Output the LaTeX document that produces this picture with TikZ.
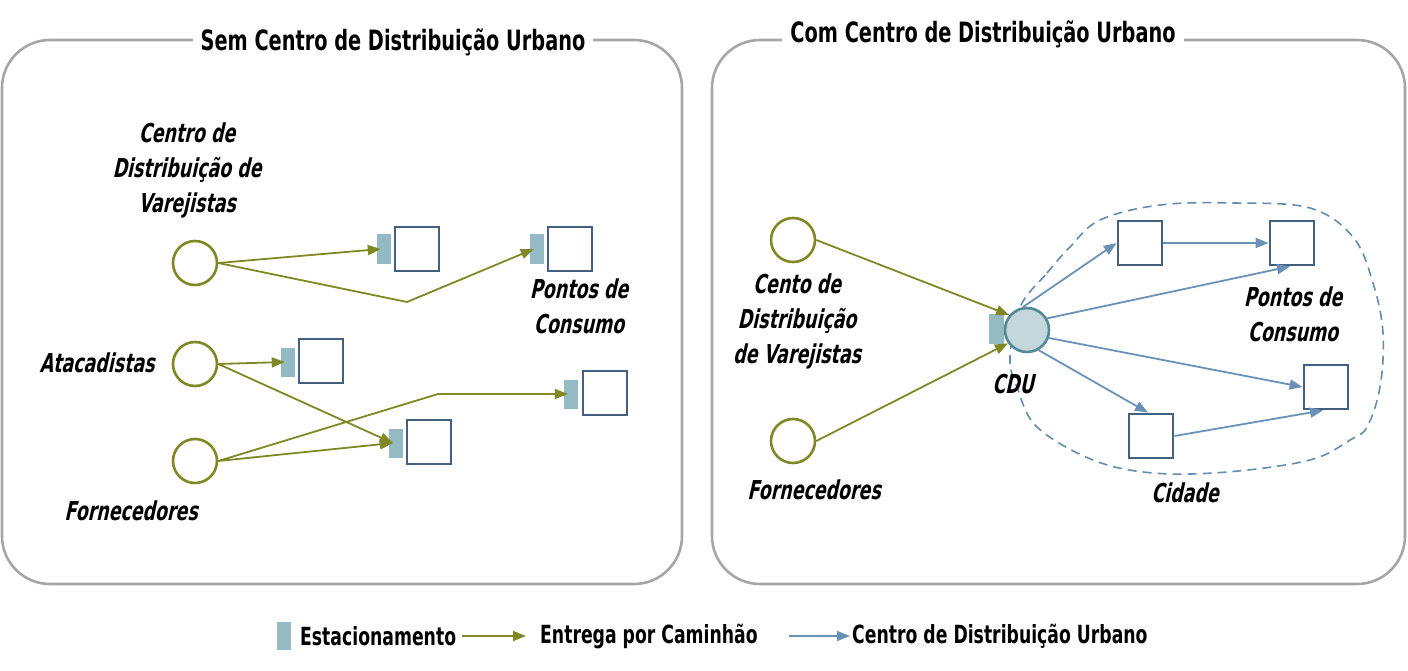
\documentclass[tikz,border=0pt]{standalone}
\usepackage{fontspec}
\usetikzlibrary{arrows.meta}
\newfontfamily\agency{DejaVu Sans}[FakeStretch=0.69]
\newfontfamily\agencyit{DejaVu Sans}[FakeStretch=0.67,FakeSlant=0.22]
\definecolor{panelgray}{RGB}{166,166,166}
\definecolor{olivec}{RGB}{128,136,38}
\definecolor{sqblue}{RGB}{68,96,128}
\definecolor{parkc}{RGB}{148,186,196}
\definecolor{bluearr}{RGB}{106,146,184}
\definecolor{cdufill}{RGB}{198,214,221}
\definecolor{cdudraw}{RGB}{80,138,150}
\definecolor{dashc}{RGB}{100,140,176}
\tikzset{
  panel/.style={draw=panelgray,line width=2.6pt,rounded corners=48pt},
  ptitle/.style={fill=white,inner xsep=8pt,inner ysep=2pt,font=\agency\bfseries\fontsize{28}{30}\selectfont},
  lbl/.style={font=\agencyit\bfseries\fontsize{26}{35}\selectfont,align=center,inner sep=0pt},
  circ/.style={circle,draw=olivec,line width=2.6pt,minimum size=44pt,inner sep=0pt,fill=white},
  sq/.style={draw=sqblue,line width=2.8pt,minimum size=44pt,inner sep=0pt,fill=white},
  park/.style={fill=parkc,minimum width=14pt,minimum height=29pt,inner sep=0pt},
  oarr/.style={draw=olivec,line width=1.8pt,-{Triangle[length=13pt,width=10pt]}},
  barr/.style={draw=bluearr,line width=1.8pt,-{Triangle[length=13pt,width=10pt]}},
  legtxt/.style={font=\agency\bfseries\fontsize{25}{28}\selectfont,anchor=west,inner sep=0pt},
}
\begin{document}
\begin{tikzpicture}[x=1pt,y=-1pt]
\useasboundingbox (0,0) rectangle (1408,671);
% panels
\draw[panel] (2,40) rectangle (682,584);
\draw[panel] (712,40) rectangle (1405,584);
\node[ptitle] (t1) at (393,42) {Sem Centro de Distribuição Urbano};
\node[ptitle] (t2) at (983,34) {Com Centro de Distribuição Urbano};

% ---------- left panel ----------
\node[circ] (c1) at (195,263) {};
\node[circ] (c2) at (195,364) {};
\node[circ] (c3) at (195,461) {};
\node[lbl] (l1) at (187,170) {Centro de\\Distribuição de\\Varejistas};
\node[lbl] (l2) at (97,363) {Atacadistas};
\node[lbl] (l3) at (131,511) {Fornecedores};

\node[sq] (s1) at (417,249) {};
\node[park] (p1) at (384,249) {};
\node[sq] (s2) at (570,249) {};
\node[park] (p2) at (537,249) {};
\node[sq] (s3) at (321,361) {};
\node[park] (p3) at (288,362) {};
\node[sq] (s4) at (605,393) {};
\node[park] (p4) at (571,394) {};
\node[sq] (s5) at (429,442) {};
\node[park] (p5) at (396,443) {};
\node[lbl] (l4) at (579,306) {Pontos de\\Consumo};

\coordinate (b1) at (407,302);
\coordinate (b2) at (438,394);
\draw[oarr] (c1.east) -- ([xshift=4pt]p1.west);
\draw[oarr] (c1.east) -- (b1) -- ([xshift=4pt]p2.west);
\draw[oarr] (c2.east) -- ([xshift=4pt]p3.west);
\draw[oarr] (c2.east) -- ([xshift=4pt]p5.west);
\draw[oarr] (c3.east) -- (b2) -- ([xshift=4pt]p4.west);
\draw[oarr] (c3.east) -- ([xshift=4pt]p5.west);

% ---------- right panel ----------
\draw[dashc,line width=1.6pt,dash pattern=on 9pt off 6pt]
  plot[smooth cycle,tension=0.6] coordinates {(1020,307) (1047,273) (1070,247) (1100,220) (1160,205) (1235,203) (1310,208) (1353,237) (1373,283) (1383,333) (1380,387) (1367,427) (1350,440) (1310,460) (1227,472) (1153,473) (1093,460) (1037,427) (1017,387) (1010,357)};

\node[circ] (r1) at (793,240) {};
\node[circ] (r2) at (793,441) {};
\node[lbl] (rl1) at (797,321) {Cento de\\Distribuição\\de Varejistas};
\node[lbl] (rl2) at (814,490) {Fornecedores};

\node[park,minimum width=15pt,minimum height=30pt] (pc) at (996,329) {};
\node[circle,draw=cdudraw,fill=cdufill,line width=2.6pt,minimum size=44pt,inner sep=0pt] (cdu) at (1027,330) {};
\node[lbl] (lcdu) at (1013,384) {CDU};

\draw[oarr] (r1.east) -- (cdu.140);
\draw[oarr] (r2.east) -- (cdu.215);

\node[sq] (sa) at (1140,243) {};
\node[sq] (sb) at (1292,243) {};
\node[sq] (sc) at (1326,387) {};
\node[sq] (sd) at (1151,436) {};
\node[lbl] (lpc) at (1293,314) {Pontos de\\Consumo};
\node[lbl] (lcid) at (1185,493) {Cidade};

\draw[barr] (cdu.100) -- (sa.west);
\draw[barr] (sa.east) -- (sb.west);
\draw[barr] (cdu.30) -- ([xshift=-2pt]sb.south);
\draw[barr] (cdu.-20) -- (sc.west);
\draw[barr] (cdu.-60) -- ([xshift=-3pt]sd.north);
\draw[barr] (sd.east) -- ([xshift=-3pt]sc.south);

% ---------- legend ----------
\node[park,minimum height=28pt] (lp) at (284,636) {};
\node[legtxt] (lt1) at (300,636) {Estacionamento};
\coordinate (la1) at (462,636);
\coordinate (la2) at (526,636);
\draw[oarr] (la1) -- (la2);
\node[legtxt] (lt2) at (540,636) {Entrega por Caminhão};
\coordinate (lb1) at (789,636);
\coordinate (lb2) at (850,636);
\draw[barr] (lb1) -- (lb2);
\node[legtxt] (lt3) at (852,636) {Centro de Distribuição Urbano};
\end{tikzpicture}
\end{document}
